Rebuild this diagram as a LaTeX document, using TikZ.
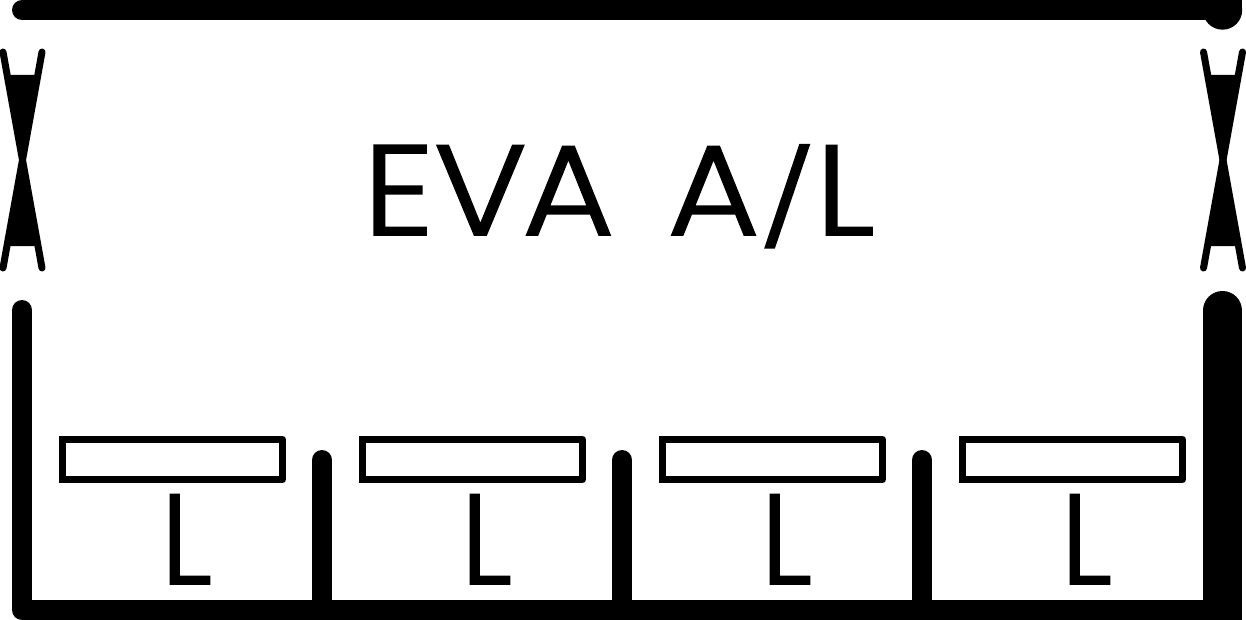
\documentclass[tikz,border=0pt]{standalone}
\usepackage{fontspec}
\setmainfont[FakeBold=1.5]{Poppins Light}
\tikzset{
  wall/.style={line width=20,line cap=round,line join=round},
  cross/.style={line width=7,line cap=round},
  web/.style={fill=black,draw=none},
  plate/.style={line width=7,line join=round},
  plateleft/.style={line width=7,line join=miter,line cap=round},
  biglabel/.style={font=\fontsize{128}{128}\selectfont,inner sep=0,anchor=base west,xscale=1.1},
  smalllabel/.style={font=\fontsize{128}{128}\selectfont,inner sep=0,anchor=base west,xscale=0.95}
}
\begin{document}
\begin{tikzpicture}[x=1pt,y=-1pt]
\useasboundingbox (0,0) rectangle (1246,620);
\clip (0,0) rectangle (1246,620);
% top bar
\coordinate (tl) at (22,10);
\coordinate (tr) at (1222.5,10);
\draw[wall] (tl) -- (tr);
\fill (tr) circle[radius=19.7];
\fill (1222.5,0) rectangle (1242.2,10);
% bowties
\foreach \c in {22.5,1223}{
  \draw[cross] (\c-19.5,52) -- (\c+19.5,268);
  \draw[cross] (\c+19.5,52) -- (\c-19.5,268);
  \fill[web] (\c-15.5,75) -- (\c+15.5,75) -- (\c,160) -- cycle;
  \fill[web] (\c-15.5,246) -- (\c+15.5,246) -- (\c,160) -- cycle;
}
% frame
\coordinate (bl) at (22,610);
\coordinate (br) at (1222.5,610);
\draw[wall] (22,310) -- (bl) -- (br);
\draw[line width=39,line cap=round] (1222.5,310.5) -- (1222.5,600);
\fill (1203,600) rectangle (1242,620);
\foreach \x in {322,622,922}{
  \draw[wall] (\x,460) -- (\x,610);
}
% plates and labels
\foreach \i/\x in {0/62.5,1/362.5,2/662.5,3/962.5}{
  \draw[plate] (\x,439.5) rectangle (\x+220,479.5);
  \draw[plateleft] (\x+100,439.5) -- (\x,439.5) -- (\x,479.5) -- (\x+100,479.5);
  \node[smalllabel] (L\i) at (\x+98,584) {L};
}
\node[biglabel] (title) at (363,235) {EV\kern-4ptA\hspace{0.38em}A\raisebox{2.6pt}{\scalebox{0.9}[0.73]{/}}L};
\end{tikzpicture}
\end{document}
